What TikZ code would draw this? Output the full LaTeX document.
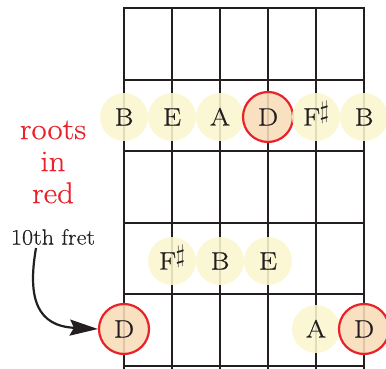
\documentclass[tikz,border=0pt]{standalone}
\usepackage{fontspec}
\setmainfont{Latin Modern Roman}
\newfontfamily\notefont[FakeStretch=1.15,FakeBold=0.6]{Latin Modern Roman}
\newfontfamily\labelfont[FakeStretch=1.1,FakeBold=0.4]{Latin Modern Roman}
\newcommand{\shp}{\kern-0.5pt\smash{\raisebox{0.28em}{$\sharp$}}}
\usetikzlibrary{arrows.meta}
\definecolor{paley}{HTML}{FBF6CF}
\definecolor{rootfill}{HTML}{F8DCB8}
\definecolor{rootred}{HTML}{E8212B}
\definecolor{ink}{HTML}{231F20}
\begin{document}
\begin{tikzpicture}[x=1pt,y=1pt,
  gridline/.style={line width=2.8pt, draw=ink, line cap=rect},
  note/.style={circle, minimum size=48pt, inner sep=0pt, text height=17pt, text depth=0pt, fill=paley, fill opacity=0.88, text opacity=1, text=ink, font=\notefont\fontsize{25}{25}\selectfont},
  rootnote/.style={note, fill=rootfill, draw=rootred, line width=2.2pt, minimum size=50pt, draw opacity=1},
  redlabel/.style={text=rootred, align=center, font=\labelfont\fontsize{30}{32}\selectfont},
  fretlabel/.style={text=ink, font=\labelfont\fontsize{22}{22}\selectfont}]
\useasboundingbox (0,0) rectangle (386,368);
% strings
\foreach \x in {124,172,220,268,316,364} \draw[gridline] (\x,0) -- (\x,360);
% frets
\foreach \y in {360,288,217,145,74,2} \draw[gridline] (124,\y) -- (364,\y);
% row 1
\node[note] (r1a) at (124,251) {B};
\node[note] (r1b) at (172,251) {E};
\node[note] (r1c) at (220,251) {A};
\node[rootnote] (r1d) at (268,251) {D};
\node[note] (r1e) at (316,251) {F\shp};
\node[note] (r1f) at (364,251) {B};
% row 2
\node[note] (r2a) at (172,107) {F\shp};
\node[note] (r2b) at (220,107) {B};
\node[note] (r2c) at (268,107) {E};
% row 3
\node[rootnote] (r3a) at (124,39) {D};
\node[note] (r3b) at (316,39) {A};
\node[rootnote] (r3c) at (364,39) {D};
% labels
\node[redlabel] (roots) at (53,206) {roots\\in\\red};
\node[fretlabel] (fret) at (53,131) {10th fret};
\coordinate (arrstart) at (36,120);
\draw[line width=2.2pt, draw=ink, -{Stealth[length=28pt,width=16pt,inset=4pt]}] (arrstart) .. controls (27,68) and (38,42) .. (r3a.west);
\end{tikzpicture}
\end{document}
